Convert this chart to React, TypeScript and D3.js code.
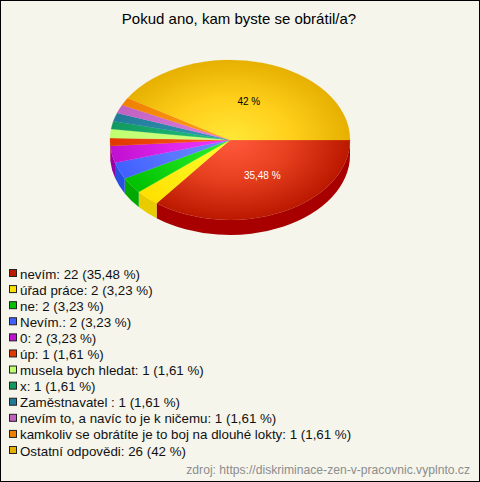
import React from "react";
import * as d3 from "d3";

const categories = ["nevím","úřad práce","ne","Nevím.","0","úp","musela bych hledat","x","Zaměstnavatel ","nevím to, a navíc to je k ničemu","kamkoliv se obrátíte je to boj na dlouhé lokty","Ostatní odpovědi"];
const values = [22,2,2,2,2,1,1,1,1,1,1,26];
const percents = ["35,48","3,23","3,23","3,23","3,23","1,61","1,61","1,61","1,61","1,61","1,61","42"];
// slice extents in degrees as measured on the reference (its pie rounds them slightly)
const sliceDegrees = [127.7,11.8,11.8,12.1,12.3,5.7,6.5,5.6,6.3,6.2,5.6,148.4];
const inner = ["#ff5a3c","#ffff30","#30f030","#6e8eff","#f038ff","#ff5a14","#d4ff88","#20c878","#3498b8","#e080e4","#ffa018","#ffe838"];
const middle = ["#e6401f","#fff018","#18dc18","#5a78ff","#de26ec","#f04a0c","#caff7c","#18b06c","#2a8aa8","#d070d2","#f89010","#ffd01c"];
const outer = ["#bb1800","#ffe000","#00c000","#4060ff","#c010d0","#e03800","#c0ff70","#109860","#207a98","#c060c0","#f08000","#e6b000"];
const side = ["#a80000","#e8cc00","#00a800","#2850e0","#9800a8","#c03000","#a0e050","#008040","#106080","#a040a0","#d07000","#c09000"];
const sliceLabels: [number, string, string, number][] = [[0,"35,48 %","#ffffff",5],[11,"42 %","#000000",2]];
const title = "Pokud ano, kam byste se obrátil/a?";
const source = "zdroj: https://diskriminace-zen-v-pracovnic.vyplnto.cz";

const W = 480, H = 482, CX = 230, CY = 140, RX = 120, RY = 80, DEPTH = 15;
const font = "'Liberation Sans', Arial, sans-serif";

export default function App() {
  const pie = d3.pie<number>().sort(null).startAngle(Math.PI / 2).endAngle(Math.PI * 2.5);
  const arcs = pie(sliceDegrees);
  const arc = d3.arc<d3.PieArcDatum<number>>().innerRadius(0).outerRadius(RX);
  const legendY = d3.scaleLinear().domain([0, 11]).range([274, 451]);
  const px = (a: number) => CX + RX * Math.sin(a);
  const py = (a: number) => CY - RY * Math.cos(a);
  const sidePath = (s: number, e: number) => {
    const a0 = Math.max(s, Math.PI / 2), a1 = Math.min(e, Math.PI * 1.5);
    if (a1 <= a0) return null;
    return `M${px(a0)},${py(a0)}A${RX},${RY} 0 0 1 ${px(a1)},${py(a1)}L${px(a1)},${py(a1) + DEPTH}A${RX},${RY} 0 0 0 ${px(a0)},${py(a0) + DEPTH}Z`;
  };
  return (
    <svg width={W} height={H} style={{ position: "absolute", left: 0, top: 0, display: "block" }} fontFamily={font}>
      <defs>
        {values.map((_, i) => (
          <radialGradient key={i} id={`g${i}`} gradientUnits="userSpaceOnUse" cx={0} cy={0} r={RX}>
            <stop offset="0" stopColor={inner[i]} />
            <stop offset="0.5" stopColor={middle[i]} />
            <stop offset="1" stopColor={outer[i]} />
          </radialGradient>
        ))}
      </defs>
      <rect x={0.5} y={0.5} width={W - 1} height={H - 1} fill="#f5f5ec" stroke="#000" />
      <text x={239} y={24} textAnchor="middle" fontSize={15} fill="#000">{title}</text>
      {arcs.map((a, i) => {
        const d = sidePath(a.startAngle, a.endAngle);
        return d ? <path key={i} d={d} fill={side[i]} /> : null;
      })}
      <g transform={`translate(${CX},${CY}) scale(1,${RY / RX})`}>
        {arcs.map((a, i) => (
          <path key={i} d={arc(a) as string} fill={`url(#g${i})`} stroke={`url(#g${i})`} strokeWidth={0.3} />
        ))}
      </g>
      {sliceLabels.map(([i, t, c, dx]) => {
        const [x, y] = arc.centroid(arcs[i]);
        return (
          <text key={i} x={CX + x * 1.03 + dx} y={CY + y * (RY / RX) + 3.5} textAnchor="middle" fontSize={10} fill={c}>{t}</text>
        );
      })}
      {categories.map((c, i) => (
        <g key={i}>
          <rect x={9.5} y={legendY(i) - 4.5} width={7} height={7} fill={outer[i]} stroke="#222" />
          <text x={20} y={legendY(i) + 4.5} fontSize={13.33} fill="#111">{`${c}: ${values[i]} (${percents[i]} %)`}</text>
        </g>
      ))}
      <text x={470} y={474} textAnchor="end" fontSize={12.13} fill="#8c8c8c">{source}</text>
    </svg>
  );
}
